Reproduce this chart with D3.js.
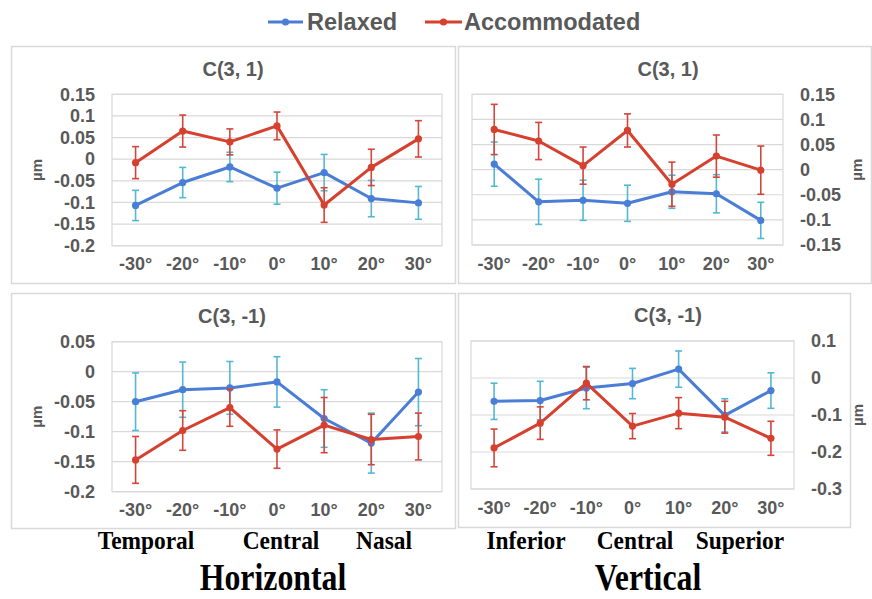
<!DOCTYPE html>
<html>
<head>
<meta charset="utf-8">
<script src="https://cdn.jsdelivr.net/npm/d3@7"></script>
<style>
  html, body { margin: 0; padding: 0; background: #ffffff; }
  svg { display: block; }
</style>
</head>
<body>
<svg id="chart" width="872" height="599"></svg>
<script>
// ---------- DATA ----------
const categories = ["-30°", "-20°", "-10°", "0°", "10°", "20°", "30°"];
const seriesNames = ["Relaxed", "Accommodated"];

// Horizontal C(3, 1)
const horC31Relaxed     = [-0.107, -0.054, -0.018, -0.067, -0.031, -0.091, -0.101];
const horC31RelaxedErr  = [0.035, 0.035, 0.034, 0.037, 0.042, 0.042, 0.038];
const horC31Accom       = [-0.008, 0.065, 0.040, 0.077, -0.106, -0.019, 0.047];
const horC31AccomErr    = [0.037, 0.037, 0.030, 0.032, 0.040, 0.042, 0.042];
const horC31Ticks       = [0.15, 0.1, 0.05, 0, -0.05, -0.1, -0.15, -0.2];

// Vertical C(3, 1)
const verC31Relaxed     = [0.011, -0.064, -0.061, -0.067, -0.044, -0.048, -0.101];
const verC31RelaxedErr  = [0.044, 0.045, 0.040, 0.036, 0.033, 0.038, 0.036];
const verC31Accom       = [0.080, 0.057, 0.008, 0.078, -0.029, 0.027, -0.001];
const verC31AccomErr    = [0.050, 0.037, 0.037, 0.033, 0.044, 0.042, 0.048];
const verC31Ticks       = [0.15, 0.1, 0.05, 0, -0.05, -0.1, -0.15];

// Horizontal C(3, -1)
const horC3m1Relaxed    = [-0.050, -0.030, -0.027, -0.017, -0.078, -0.119, -0.034];
const horC3m1RelaxedErr = [0.048, 0.046, 0.044, 0.042, 0.048, 0.050, 0.056];
const horC3m1Accom      = [-0.147, -0.098, -0.060, -0.129, -0.089, -0.113, -0.108];
const horC3m1AccomErr   = [0.039, 0.033, 0.031, 0.032, 0.046, 0.042, 0.039];
const horC3m1Ticks      = [0.05, 0, -0.05, -0.1, -0.15, -0.2];

// Vertical C(3, -1)
const verC3m1Relaxed    = [-0.063, -0.061, -0.027, -0.015, 0.024, -0.101, -0.034];
const verC3m1RelaxedErr = [0.049, 0.052, 0.056, 0.041, 0.049, 0.045, 0.048];
const verC3m1Accom      = [-0.189, -0.122, -0.014, -0.130, -0.095, -0.106, -0.163];
const verC3m1AccomErr   = [0.051, 0.044, 0.045, 0.034, 0.042, 0.043, 0.046];
const verC3m1Ticks      = [0.1, 0, -0.1, -0.2, -0.3];

const panelTitles = ["C(3, 1)", "C(3, 1)", "C(3, -1)", "C(3, -1)"];
const axisTitle = "µm";
const regionLabelsH = ["Temporal", "Central", "Nasal"];
const regionLabelsV = ["Inferior", "Central", "Superior"];
const groupLabels = ["Horizontal", "Vertical"];

// ---------- STYLE ----------
const C = {
  relaxed: "#4a7dd6",
  relaxedErr: "#52b9d3",
  accom: "#d6402f",
  accomErr: "#d2463b",
  grid: "#d9d9d9",
  frame: "#d9d9d9",
  text: "#595959"
};
const sansFont = "'Liberation Sans', Arial, sans-serif";
const serifFont = "'Liberation Serif', 'Times New Roman', serif";

const svg = d3.select("#chart");

// panel layout (positions only)
const panels = [
  { box: [11, 46, 455, 283], plot: [112, 442, 94.3, 245.7], side: "left",
    title: panelTitles[0], titleX: 233, titleY: 69, axisX: 37,
    rel: horC31Relaxed, relErr: horC31RelaxedErr, acc: horC31Accom, accErr: horC31AccomErr,
    ticks: horC31Ticks },
  { box: [458, 46, 871, 283], plot: [472, 783, 94.3, 245], side: "right",
    title: panelTitles[1], titleX: 668, titleY: 69, axisX: 857,
    rel: verC31Relaxed, relErr: verC31RelaxedErr, acc: verC31Accom, accErr: verC31AccomErr,
    ticks: verC31Ticks },
  { box: [11, 293, 455, 528], plot: [112, 442, 341.7, 491.7], side: "left",
    title: panelTitles[2], titleX: 232, titleY: 316, axisX: 37,
    rel: horC3m1Relaxed, relErr: horC3m1RelaxedErr, acc: horC3m1Accom, accErr: horC3m1AccomErr,
    ticks: horC3m1Ticks },
  { box: [458, 293, 850, 527], plot: [471, 794, 341, 489], side: "right",
    title: panelTitles[3], titleX: 668, titleY: 315, axisX: 858,
    rel: verC3m1Relaxed, relErr: verC3m1RelaxedErr, acc: verC3m1Accom, accErr: verC3m1AccomErr,
    ticks: verC3m1Ticks }
];

const fmt = v => {
  if (Math.abs(v) < 1e-9) return "0";
  return String(+v.toFixed(2));
};

panels.forEach(p => {
  const [bx0, by0, bx1, by1] = p.box;
  const [px0, px1, py0, py1] = p.plot;
  const g = svg.append("g");

  // panel frame
  g.append("rect")
    .attr("x", bx0 + 0.5).attr("y", by0 + 0.5)
    .attr("width", bx1 - bx0).attr("height", by1 - by0)
    .attr("fill", "#ffffff").attr("stroke", C.frame).attr("stroke-width", 1.5);

  const x = d3.scaleBand().domain(categories).range([px0, px1]);
  const y = d3.scaleLinear().domain(d3.extent(p.ticks)).range([py1, py0]);

  // y tick labels via axis
  const yAxis = (p.side === "left" ? d3.axisLeft(y) : d3.axisRight(y))
    .tickValues(p.ticks).tickFormat(fmt).tickSize(0).tickPadding(17);
  const ya = g.append("g")
    .attr("transform", `translate(${p.side === "left" ? px0 : px1},0)`)
    .call(yAxis);
  ya.select(".domain").remove();
  ya.selectAll("text")
    .attr("font-family", sansFont).attr("font-size", 18).attr("font-weight", "bold")
    .attr("fill", C.text);

  // gridlines
  g.append("g").selectAll("line").data(p.ticks).join("line")
    .attr("x1", px0).attr("x2", px1)
    .attr("y1", d => y(d)).attr("y2", d => y(d))
    .attr("stroke", C.grid).attr("stroke-width", 1.2);

  g.append("rect")
    .attr("x", px0).attr("y", py0).attr("width", px1 - px0).attr("height", py1 - py0)
    .attr("fill", "none").attr("stroke", C.grid).attr("stroke-width", 1.2);

  // x axis
  const xa = g.append("g")
    .attr("transform", `translate(0,${py1})`)
    .call(d3.axisBottom(x).tickSize(0).tickPadding(12));
  xa.select(".domain").remove();
  xa.selectAll("text")
    .attr("font-family", sansFont).attr("font-size", 18).attr("font-weight", "bold")
    .attr("fill", C.text);

  // title
  g.append("text")
    .attr("x", p.titleX).attr("y", p.titleY).attr("dy", "0.35em")
    .attr("text-anchor", "middle")
    .attr("font-family", sansFont).attr("font-size", 20).attr("font-weight", "bold")
    .attr("fill", C.text).text(p.title);

  // axis title
  const ay = (py0 + py1) / 2;
  g.append("text")
    .attr("transform", `translate(${p.axisX},${ay}) rotate(-90)`)
    .attr("text-anchor", "middle").attr("dy", "0.35em")
    .attr("font-family", sansFont).attr("font-size", 15).attr("font-weight", "bold")
    .attr("fill", C.text).text(axisTitle);

  const cx = d => x(d) + x.bandwidth() / 2;
  const line = d3.line().x(d => cx(d.c)).y(d => y(d.v));

  const drawSeries = (vals, errs, color, errColor) => {
    const data = categories.map((c, i) => ({ c, v: vals[i], e: errs[i] }));
    const eg = g.append("g").attr("stroke", errColor).attr("stroke-width", 1.6);
    data.forEach(d => {
      const xc = cx(d.c);
      eg.append("line").attr("x1", xc).attr("x2", xc)
        .attr("y1", y(d.v + d.e)).attr("y2", y(d.v - d.e));
      eg.append("line").attr("x1", xc - 3.5).attr("x2", xc + 3.5)
        .attr("y1", y(d.v + d.e)).attr("y2", y(d.v + d.e));
      eg.append("line").attr("x1", xc - 3.5).attr("x2", xc + 3.5)
        .attr("y1", y(d.v - d.e)).attr("y2", y(d.v - d.e));
    });
    g.append("path").datum(data).attr("d", line)
      .attr("fill", "none").attr("stroke", color).attr("stroke-width", 3)
      .attr("stroke-linejoin", "round");
    g.append("g").selectAll("circle").data(data).join("circle")
      .attr("cx", d => cx(d.c)).attr("cy", d => y(d.v)).attr("r", 3.6)
      .attr("fill", color);
  };
  drawSeries(p.rel, p.relErr, C.relaxed, C.relaxedErr);
  drawSeries(p.acc, p.accErr, C.accom, C.accomErr);
});

// ---------- LEGEND ----------
const legend = [
  { name: seriesNames[0], color: C.relaxed, x0: 268, x1: 303, tx: 307 },
  { name: seriesNames[1], color: C.accom, x0: 425, x1: 462, tx: 464 }
];
const lg = svg.append("g");
legend.forEach(l => {
  lg.append("line").attr("x1", l.x0).attr("x2", l.x1).attr("y1", 22).attr("y2", 22)
    .attr("stroke", l.color).attr("stroke-width", 3);
  lg.append("circle").attr("cx", (l.x0 + l.x1) / 2).attr("cy", 22).attr("r", 3.6)
    .attr("fill", l.color);
  lg.append("text").attr("x", l.tx).attr("y", 22).attr("dy", "0.35em")
    .attr("font-family", sansFont).attr("font-size", 23.5).attr("font-weight", "bold")
    .attr("fill", C.text).text(l.name);
});

// ---------- REGION / GROUP LABELS ----------
const regionPos = [
  { labels: regionLabelsH, xs: [146, 281, 384], gx: 273, group: groupLabels[0] },
  { labels: regionLabelsV, xs: [526, 635, 740], gx: 648, group: groupLabels[1] }
];
regionPos.forEach(r => {
  r.labels.forEach((t, i) => {
    svg.append("text")
      .attr("transform", `translate(${r.xs[i]},549) scale(0.9,1)`)
      .attr("text-anchor", "middle")
      .attr("font-family", serifFont).attr("font-size", 26).attr("font-weight", "bold")
      .attr("fill", "#000").text(t);
  });
  svg.append("text")
    .attr("transform", `translate(${r.gx},590) scale(0.86,1)`)
    .attr("text-anchor", "middle")
    .attr("font-family", serifFont).attr("font-size", 37).attr("font-weight", "bold")
    .attr("fill", "#000").text(r.group);
});
</script>
</body>
</html>
